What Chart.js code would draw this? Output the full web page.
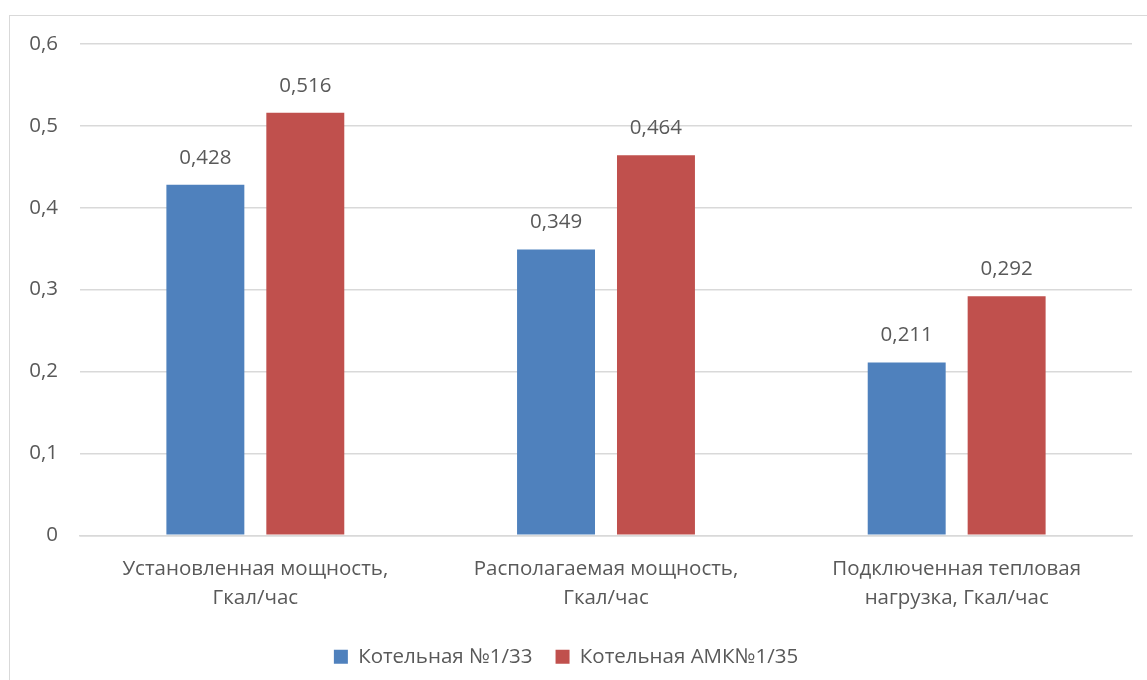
<!DOCTYPE html>
<html>
<head>
<meta charset="utf-8">
<script src="https://cdn.jsdelivr.net/npm/chart.js"></script>
<style>
  html, body { margin: 0; padding: 0; background: #fff; }
  #wrap { position: relative; width: 1147px; height: 680px; overflow: hidden; }
  #frame { position: absolute; left: 9px; top: 15px; width: 1200px; height: 800px; border: 1.5px solid #d9d9d9; box-sizing: border-box; }
  #boilerChart { position: absolute; left: 0; top: 0; }
</style>
</head>
<body>
<div id="wrap">
  <div id="frame"></div>
  <canvas id="boilerChart" width="1147" height="680"></canvas>
</div>
<script>
// categories and series
const categories = [
    ["Установленная мощность,", "Гкал/час"],
    ["Располагаемая мощность,", "Гкал/час"],
    ["Подключенная тепловая", "нагрузка, Гкал/час"]
];
const seriesNames = ["Котельная №1/33", "Котельная АМК№1/35"];
const boiler133 = [0.428, 0.349, 0.211];
const boilerAmk135 = [0.516, 0.464, 0.292];

const FONT = "'Open Sans', 'Liberation Sans', sans-serif";
const TEXT = "#595959";
const SIZE = 20.5;

const fmt = v => String(v).replace(".", ",");

// value labels above bars
const valueLabels = {
    id: "valueLabels",
    afterDatasetsDraw(chart) {
        const ctx = chart.ctx;
        ctx.save();
        ctx.font = SIZE + "px " + FONT;
        ctx.fillStyle = TEXT;
        ctx.textAlign = "center";
        ctx.textBaseline = "middle";
        chart.data.datasets.forEach((ds, i) => {
            chart.getDatasetMeta(i).data.forEach((bar, j) => {
                ctx.fillText(fmt(ds.data[j]), bar.x, bar.y - 27);
            });
        });
        ctx.restore();
    }
};

new Chart(document.getElementById("boilerChart"), {
    type: "bar",
    data: {
        labels: categories,
        datasets: [
            { label: seriesNames[0], data: boiler133, backgroundColor: "#4f81bd" },
            { label: seriesNames[1], data: boilerAmk135, backgroundColor: "#c0504d" }
        ]
    },
    options: {
        responsive: false,
        animation: false,
        devicePixelRatio: 1,
        layout: { padding: { top: 44, right: 15, left: 0, bottom: 3 } },
        datasets: {
            bar: { categoryPercentage: 0.57, barPercentage: 0.78 }
        },
        scales: {
            x: {
                grid: { display: false },
                border: { color: "#d9d9d9", width: 1.5 },
                ticks: { color: TEXT, font: { size: SIZE, family: FONT, lineHeight: 1.42 }, padding: 11, maxRotation: 0 }
            },
            y: {
                min: 0, max: 0.6,
                afterFit(scale) { scale.width = 80; },
                grid: { color: "#d9d9d9", lineWidth: 1.5, drawTicks: false },
                border: { display: false },
                ticks: {
                    stepSize: 0.1,
                    padding: 22,
                    color: TEXT,
                    font: { size: SIZE, family: FONT },
                    callback: v => v === 0 ? "0" : v.toFixed(1).replace(".", ",")
                }
            }
        },
        plugins: {
            legend: {
                position: "bottom",
                labels: { boxWidth: 14, boxHeight: 14, color: TEXT, font: { size: SIZE, family: FONT }, padding: 23 }
            },
            tooltip: { enabled: false }
        }
    },
    plugins: [valueLabels]
});
</script>
</body>
</html>
